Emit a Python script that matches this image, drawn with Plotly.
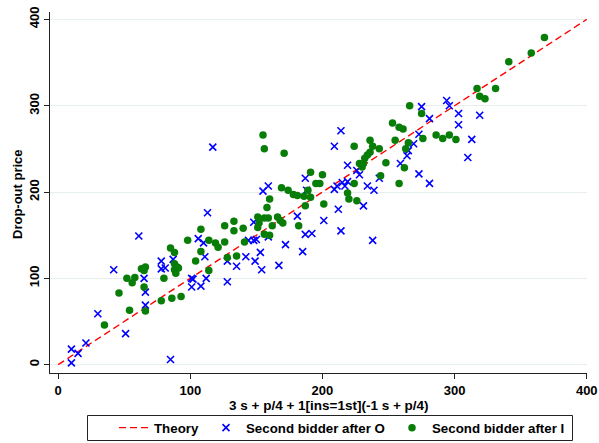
import plotly.graph_objects as go

# Theory: drop-out price equals the predicted value
theory_x = [0, 400]
theory_y = [0, 400]

# Second bidder after O
blue_x = [10, 10, 15, 21, 30, 42, 51, 61, 65, 66, 66, 78, 78, 81, 87, 85, 101, 102, 101, 108,
          112, 106, 110, 111, 113, 117, 128, 128, 135, 142, 144, 148, 150, 148, 149, 153, 154,
          155, 159, 159, 167, 172, 181, 185, 187, 188, 187, 192, 201, 209, 214, 212, 214, 209,
          211, 215, 217, 219, 219, 226, 228, 231, 234, 239, 238, 243, 259, 264, 265, 269, 273,
          273, 275, 281, 281, 294, 296, 303, 303, 310, 313, 319]
blue_y = [2, 18, 13, 25, 59, 110, 36, 149, 100, 84, 69, 120, 111, 112, 122, 6, 100, 99, 90, 91,
          100, 146, 141, 125, 176, 252, 120, 96, 114, 125, 144, 144, 145, 165, 120, 130, 110,
          201, 207, 148, 115, 139, 172, 131, 216, 202, 151, 152, 167, 253, 271, 180, 155, 203,
          207, 211, 207, 212, 231, 225, 220, 184, 207, 202, 144, 216, 233, 242, 248, 256, 267,
          221, 299, 285, 210, 306, 300, 291, 278, 240, 261, 289]

# Second bidder after I
green_x = [35, 46, 52, 58, 56, 65, 54, 66, 63, 66, 65, 80, 78, 86, 93, 85, 88, 88, 90, 88, 89,
           91, 98, 104, 108, 108, 114, 114, 119, 121, 126, 126, 133, 133, 140, 141, 128, 135,
           151, 152, 151, 156, 159, 162, 166, 168, 170, 156, 160, 155, 156, 171, 158, 160, 169,
           174, 178, 181, 186, 189, 191, 187, 182, 191, 195, 198, 200, 201, 219, 220, 226, 224,
           224, 228, 231, 230, 232, 234, 236, 236, 238, 243, 244, 248, 253, 255, 258, 261, 258,
           262, 265, 263, 266, 275, 276, 286, 291, 296, 301, 317, 331, 319, 323, 341, 358, 368]
green_y = [46, 83, 100, 101, 95, 90, 63, 62, 111, 113, 109, 100, 74, 77, 79, 135, 130, 117, 113,
           110, 106, 112, 144, 120, 131, 157, 109, 144, 141, 136, 142, 161, 166, 155, 158, 142,
           124, 126, 171, 164, 159, 170, 170, 161, 171, 167, 164, 151, 150, 266, 250, 245, 182,
           192, 205, 202, 197, 196, 195, 202, 194, 184, 161, 223, 210, 210, 220, 186, 199, 192,
           190, 210, 253, 233, 233, 229, 239, 243, 246, 260, 253, 250, 219, 234, 280, 260, 275,
           273, 210, 228, 257, 250, 300, 291, 262, 266, 262, 266, 261, 320, 320, 311, 308, 351,
           361, 379]

tick_vals = [0, 100, 200, 300, 400]
tick_text = ["0", "100", "200", "300", "400"]

FONT = "Liberation Sans, Arial, sans-serif"
W, H = 599, 443
ML, MR, MT, MB = 50, 12, 12, 70
PW, PH = W - ML - MR, H - MT - MB


def px_x(p):
    return (p - ML) / PW


def px_y(p):
    return (H - MB - p) / PH


fig = go.Figure()
fig.add_trace(go.Scatter(
    x=theory_x, y=theory_y, mode="lines", name="Theory", legend="legend",
    line=dict(color="#ff0000", width=1.4, dash="7px,4px"),
))
fig.add_trace(go.Scatter(
    x=blue_x, y=blue_y, mode="markers", name="Second bidder after O", legend="legend2",
    marker=dict(symbol="x-thin", size=7, line=dict(color="#0000ff", width=1.6), color="#0000ff"),
))
fig.add_trace(go.Scatter(
    x=green_x, y=green_y, mode="markers", name="Second bidder after I", legend="legend3",
    marker=dict(symbol="circle", size=7.5, color="#087d08", line=dict(width=0)),
))

axis_font = dict(family=FONT, size=13, color="black", weight="bold")
legend_font = dict(family=FONT, size=13.3, color="black", weight="bold")


def legend_at(left_px):
    return dict(
        orientation="h", x=px_x(left_px), y=px_y(428), xanchor="left", yanchor="middle",
        borderwidth=0, bgcolor="rgba(0,0,0,0)", font=legend_font, itemwidth=30,
    )


fig.update_layout(
    width=W, height=H,
    margin=dict(l=ML, r=MR, t=MT, b=MB, autoexpand=False),
    paper_bgcolor="white", plot_bgcolor="white",
    font=dict(family=FONT, size=13, color="black", weight="bold"),
    showlegend=True,
    legend=legend_at(114),
    legend2=legend_at(206),
    legend3=legend_at(392),
    xaxis=dict(
        range=[-6.2, 400.2], showgrid=False, zeroline=False,
        showline=True, linecolor="#222222", linewidth=1,
        ticks="outside", ticklen=5, tickcolor="#222222",
        tickvals=tick_vals, ticktext=tick_text, tickfont=axis_font,
        ticklabeloverflow="allow", automargin=False,
    ),
    yaxis=dict(
        range=[-9.7, 408.6], showgrid=True, gridcolor="#e6eef0", gridwidth=1,
        zeroline=False, showline=True, linecolor="#222222", linewidth=1,
        ticks="outside", ticklen=5, tickcolor="#222222",
        tickvals=tick_vals, ticktext=tick_text, tickfont=axis_font, tickangle=-90,
        automargin=False,
    ),
    shapes=[
        # frame round the key
        dict(type="rect", xref="paper", yref="paper",
             x0=px_x(87.5), x1=px_x(572.5), y0=px_y(415.5), y1=px_y(440.5),
             line=dict(color="#222222", width=1), fillcolor="rgba(0,0,0,0)", layer="above"),
    ],
    annotations=[
        dict(text="3 s + p/4 + 1[ins=1st](-1 s + p/4)", xref="paper", yref="paper",
             x=px_x(329), y=px_y(405), xanchor="center", yanchor="middle",
             showarrow=False, font=dict(family=FONT, size=13.5, color="black", weight="bold")),
        dict(text="Drop-out price", xref="paper", yref="paper",
             x=px_x(17), y=px_y(194), xanchor="center", yanchor="middle",
             textangle=-90, showarrow=False, font=axis_font),
    ],
)

fig.write_html("out.html")
